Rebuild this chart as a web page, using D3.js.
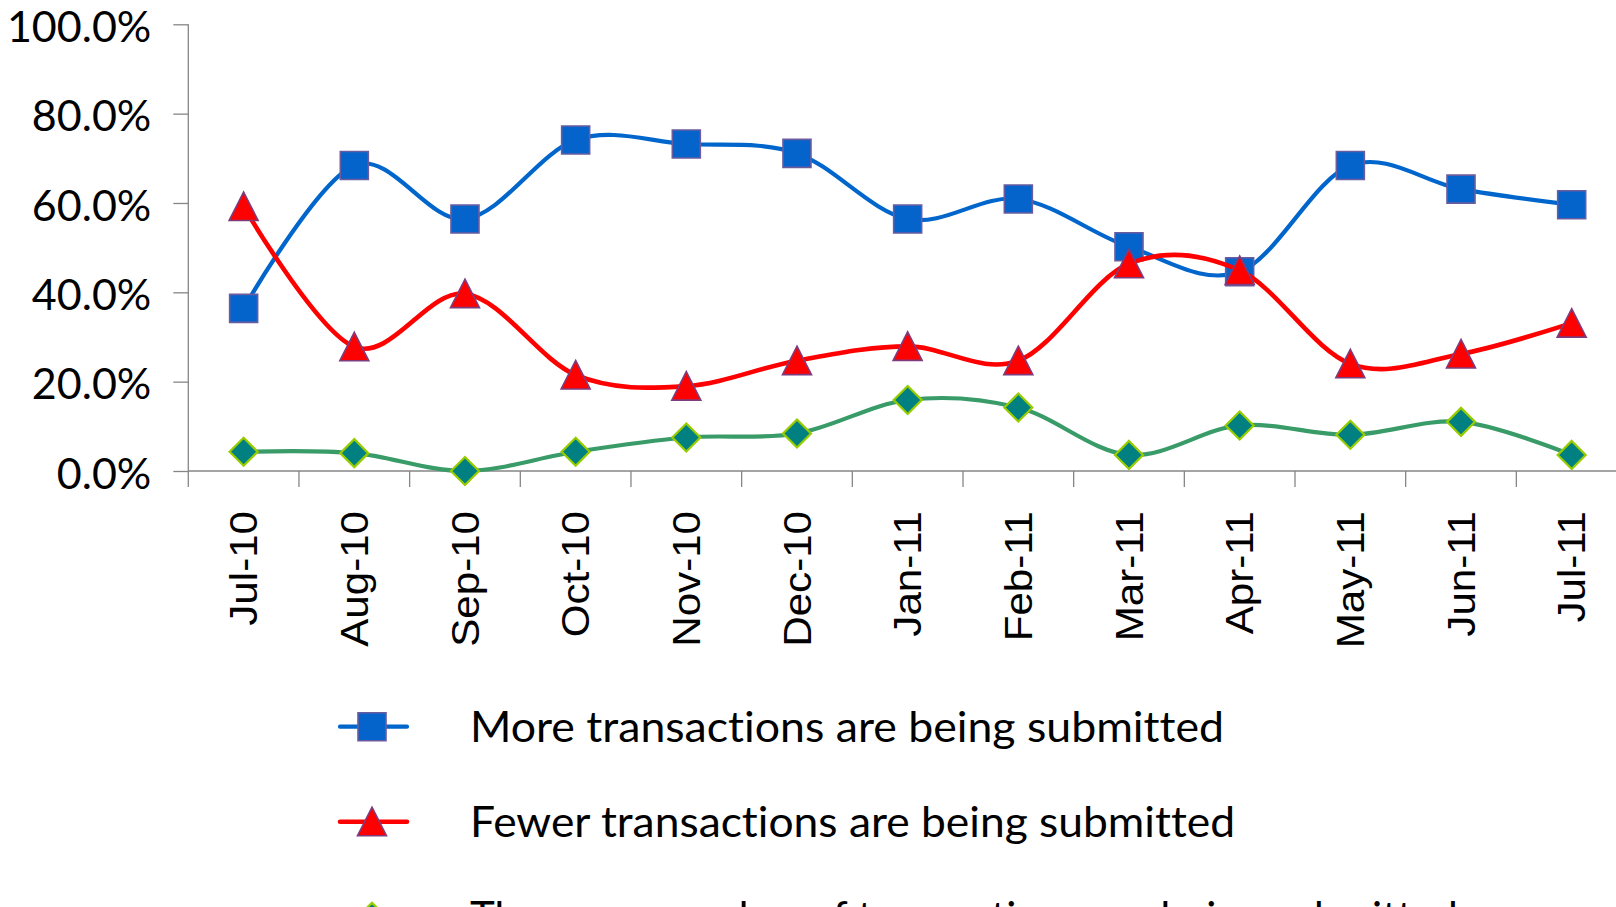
<!DOCTYPE html>
<html>
<head>
<meta charset="utf-8">
<script src="https://cdn.jsdelivr.net/npm/d3@7"></script>
<style>
  html, body { margin: 0; padding: 0; background: #fff; overflow: hidden; }
  svg { display: block; }
  text { font-variant-ligatures: none; font-feature-settings: "liga" 0, "dlig" 0, "clig" 0; }
</style>
</head>
<body>
<div id="chart"></div>
<script>
// ===== Data =====
const months = ['Jul-10', 'Aug-10', 'Sep-10', 'Oct-10', 'Nov-10', 'Dec-10', 'Jan-11',
  'Feb-11', 'Mar-11', 'Apr-11', 'May-11', 'Jun-11', 'Jul-11'];

const moreValues  = [0.364, 0.684, 0.564, 0.741, 0.732, 0.711, 0.564, 0.609, 0.502, 0.446, 0.684, 0.631, 0.596];
const fewerValues = [0.592, 0.278, 0.397, 0.215, 0.190, 0.247, 0.279, 0.247, 0.464, 0.449, 0.240, 0.262, 0.331];
const sameValues  = [0.043, 0.040, 0.000, 0.043, 0.075, 0.084, 0.159, 0.142, 0.036, 0.102, 0.081, 0.110, 0.036];

const yTicks = [0, 0.2, 0.4, 0.6, 0.8, 1.0];

const seriesNames = [
  'More transactions are being submitted',
  'Fewer transactions are being submitted',
  'The same number of transactions are being submitted'
];

// ===== Layout =====
const W = 1616, H = 907;
const plotLeft = 188.3, bandStep = 110.67;
const plotTop = 24.3, plotBottom = 471;
const axisColor = '#868686';

const series = [
  { name: seriesNames[0], values: moreValues,  line: '#0066CC', width: 4.2, shape: 'square',   fill: '#0563CC', stroke: '#6A5C9E', sw: 1.6 },
  { name: seriesNames[1], values: fewerValues, line: '#FF0000', width: 4.6, shape: 'triangle', fill: '#FF0000', stroke: '#7D3C7E', sw: 1.6 },
  { name: seriesNames[2], values: sameValues,  line: '#389B68', width: 4.2, shape: 'diamond',  fill: '#008080', stroke: '#99CC00', sw: 2.2 }
];

const svg = d3.select('#chart')
  .append('svg')
  .attr('width', W)
  .attr('height', H);

svg.append('rect').attr('width', W).attr('height', H).attr('fill', '#fff');

const x = d3.scaleBand()
  .domain(months)
  .range([plotLeft, plotLeft + bandStep * months.length])
  .padding(0);

const y = d3.scaleLinear()
  .domain([0, 1])
  .range([plotBottom, plotTop]);

const cx = d => x(d) + x.bandwidth() / 2;

// y axis
const yAxis = svg.append('g')
  .attr('transform', `translate(${plotLeft},0)`)
  .call(d3.axisLeft(y)
    .tickValues(yTicks)
    .tickSize(15)
    .tickPadding(22)
    .tickFormat(d3.format('.1%')));
yAxis.select('.domain').remove();
yAxis.selectAll('.tick line').attr('stroke', axisColor).attr('stroke-width', 1.3);
yAxis.selectAll('.tick text')
  .attr('fill', '#000')
  .attr('font-family', 'Lato, "Open Sans", sans-serif')
  .attr('font-size', 43)
  .attr('dy', '0.4em');

// vertical axis line (runs down to the bottom tick length)
svg.append('line')
  .attr('x1', plotLeft).attr('x2', plotLeft)
  .attr('y1', y(1)).attr('y2', plotBottom + 16)
  .attr('stroke', axisColor).attr('stroke-width', 1.3);

// horizontal axis line
svg.append('line')
  .attr('x1', plotLeft).attr('x2', x.range()[1])
  .attr('y1', plotBottom).attr('y2', plotBottom)
  .attr('stroke', axisColor).attr('stroke-width', 1.3);

// category boundary ticks
svg.append('g')
  .selectAll('line')
  .data(months.slice(1).concat(['__end']))
  .enter().append('line')
  .attr('x1', d => d === '__end' ? x.range()[1] : x(d))
  .attr('x2', d => d === '__end' ? x.range()[1] : x(d))
  .attr('y1', plotBottom)
  .attr('y2', plotBottom + 16)
  .attr('stroke', axisColor).attr('stroke-width', 1.3);

// category labels, rotated
svg.append('g')
  .selectAll('text')
  .data(months)
  .enter().append('text')
  .attr('transform', d => `translate(${cx(d)},${511}) rotate(-90) scale(1.08,1)`)
  .attr('text-anchor', 'end')
  .attr('dy', '0.35em')
  .attr('font-family', '"Liberation Sans", Arial, sans-serif')
  .attr('font-size', 39)
  .attr('fill', '#000')
  .text(d => d);

// marker paths
function markerPath(shape) {
  if (shape === 'square') return 'M-14,-14H14V14H-14Z';
  if (shape === 'triangle') return 'M0,-14.5L14.5,14H-14.5Z';
  return 'M0,-14L14,0L0,14L-14,0Z';
}

const line = d3.line()
  .x((d, i) => cx(months[i]))
  .y(d => y(d))
  .curve(d3.curveCardinal.tension(0));

series.forEach(s => {
  const g = svg.append('g');
  g.append('path')
    .datum(s.values)
    .attr('d', line)
    .attr('fill', 'none')
    .attr('stroke', s.line)
    .attr('stroke-width', s.width)
    .attr('stroke-linejoin', 'round')
    .attr('stroke-linecap', 'round');

  g.selectAll('path.marker')
    .data(s.values)
    .enter().append('path')
    .attr('class', 'marker')
    .attr('transform', (d, i) => `translate(${cx(months[i])},${y(d)})`)
    .attr('d', markerPath(s.shape))
    .attr('fill', s.fill)
    .attr('stroke', s.stroke)
    .attr('stroke-width', s.sw);
});

// legend
const legendTop = 726.7, legendStep = 95;
const legendWidths = [754, 765, 1000];
const legend = svg.append('g')
  .selectAll('g')
  .data(series)
  .enter().append('g')
  .attr('transform', (d, i) => `translate(0,${legendTop + i * legendStep})`);

legend.append('line')
  .attr('x1', 340).attr('x2', 407)
  .attr('y1', 0).attr('y2', 0)
  .attr('stroke', d => d.line)
  .attr('stroke-width', d => d.width)
  .attr('stroke-linecap', 'round');

legend.append('path')
  .attr('transform', 'translate(372,0)')
  .attr('d', d => markerPath(d.shape))
  .attr('fill', d => d.fill)
  .attr('stroke', d => d.stroke)
  .attr('stroke-width', d => d.sw);

legend.append('text')
  .attr('x', 470)
  .attr('y', 15.5)
  .attr('font-family', 'Lato, "Open Sans", sans-serif')
  .attr('font-size', 42)
  .attr('fill', '#000')
  .each(function (d, i) {
    if (i < 2) d3.select(this).attr('textLength', legendWidths[i]).attr('lengthAdjust', 'spacingAndGlyphs');
  })
  .text(d => d.name);
</script>
</body>
</html>
